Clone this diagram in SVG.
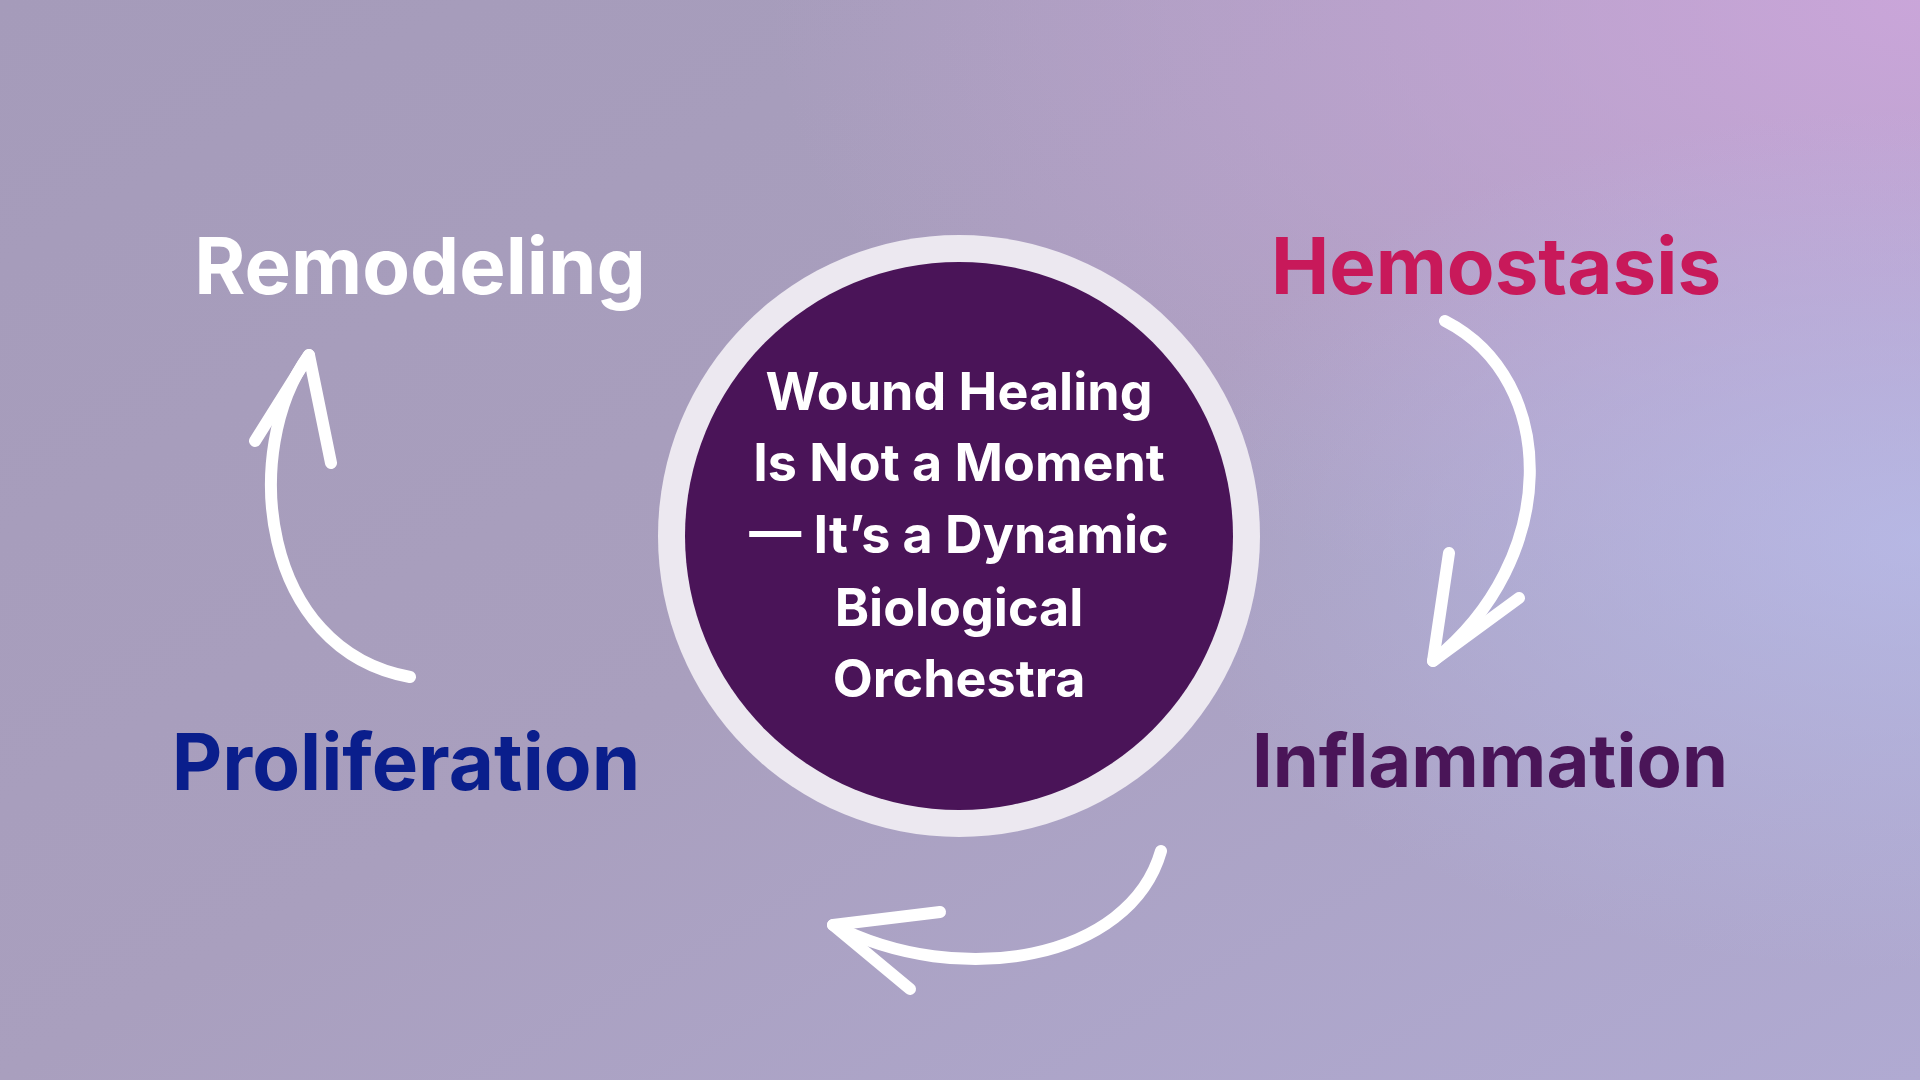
<svg xmlns="http://www.w3.org/2000/svg" width="1920" height="1080" viewBox="0 0 1920 1080">
<defs>
<linearGradient id="bg" x1="0" y1="0" x2="1" y2="1">
<stop offset="0" stop-color="#A59BBA"/>
<stop offset="0.5" stop-color="#A99FBE"/>
<stop offset="1" stop-color="#B0AAD2"/>
</linearGradient>
<radialGradient id="tr" cx="1" cy="0" r="0.6">
<stop offset="0" stop-color="#CDA6DC" stop-opacity="0.9"/>
<stop offset="1" stop-color="#CDA6DC" stop-opacity="0"/>
</radialGradient>
<radialGradient id="rr" cx="1" cy="0.5" r="0.4">
<stop offset="0" stop-color="#B8BCEA" stop-opacity="0.8"/>
<stop offset="1" stop-color="#B8BCEA" stop-opacity="0"/>
</radialGradient>
<style>
.lbl{font-family:Inter,"Liberation Sans",sans-serif;font-weight:700;font-size:78px;text-anchor:middle}
.ct{font-family:Inter,"Liberation Sans",sans-serif;font-weight:700;font-size:52px;fill:#fff;text-anchor:middle}
.arr{fill:none;stroke:#fff;stroke-width:12;stroke-linecap:round;stroke-linejoin:round}
</style>
</defs>
<rect width="1920" height="1080" fill="url(#bg)"/>
<rect width="1920" height="1080" fill="url(#tr)"/>
<rect width="1920" height="1080" fill="url(#rr)"/>
<g id="center">
<circle cx="959" cy="536" r="301" fill="#ECE8F0"/>
<circle cx="959" cy="536" r="274" fill="#4A1458"/>
<text class="ct" x="959" y="410">Wound Healing</text>
<text class="ct" x="959" y="481">Is Not a Moment</text>
<text class="ct" x="959" y="553">— It’s a Dynamic</text>
<text class="ct" x="959" y="626">Biological</text>
<text class="ct" x="959" y="697">Orchestra</text>
</g>
<g id="hemostasis"><text class="lbl" x="1496" y="294" fill="#C8195A">Hemostasis</text></g>
<g id="inflammation"><text class="lbl" x="1490" y="787" fill="#4A1558" style="font-size:74px">Inflammation</text></g>
<g id="proliferation"><text class="lbl" x="406" y="790" fill="#0A1E8C">Proliferation</text></g>
<g id="remodeling"><text class="lbl" x="420" y="294" fill="#FFFFFF">Remodeling</text></g>
<g id="connectors">
<path class="arr" d="M1445 321 C1560 380 1560 560 1433 661"/>
<path class="arr" d="M1449 553 L1433 661 L1519 598"/>
<path class="arr" d="M1161 851 C1130 960 960 990 833 925"/>
<path class="arr" d="M940 912 L833 925 L910 989"/>
<path class="arr" d="M410 677 C260 650 240 450 309 355"/>
<path class="arr" d="M255 441 L309 355 L331 463"/>
</g>
</svg>
